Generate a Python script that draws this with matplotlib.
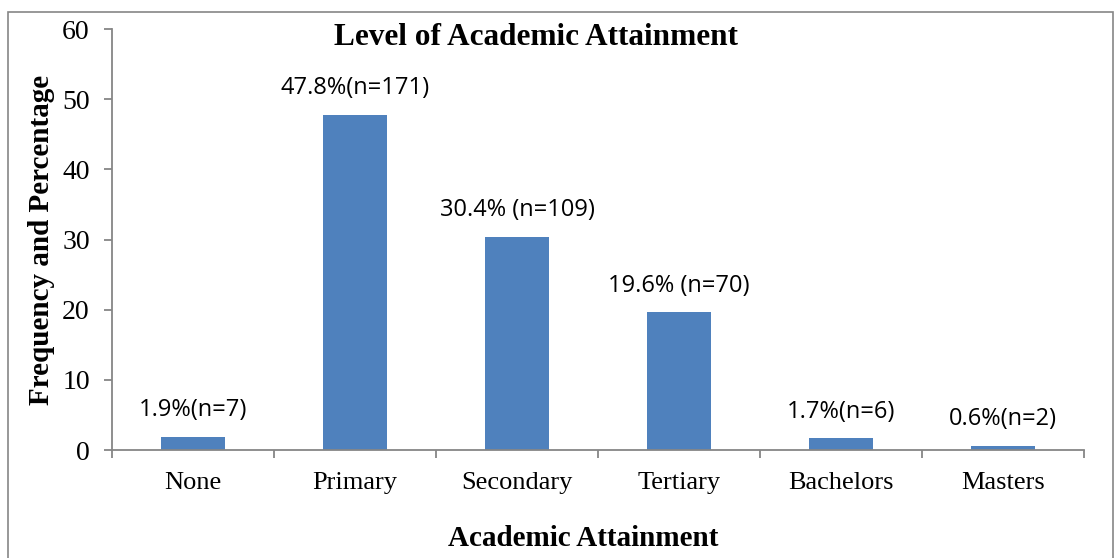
import matplotlib.pyplot as plt
from matplotlib.patches import Rectangle

categories = ['None', 'Primary', 'Secondary', 'Tertiary', 'Bachelors', 'Masters']
percent = [1.9, 47.8, 30.4, 19.6, 1.7, 0.6]
labels = ['1.9%(n=7)', '47.8%(n=171)', '30.4% (n=109)', '19.6% (n=70)',
          '1.7%(n=6)', '0.6%(n=2)']

serif = ['Liberation Serif', 'DejaVu Serif']
sans = ['Open Sans', 'DejaVu Sans']
axis_grey = '#868686'

fig = plt.figure(figsize=(11.17, 5.58), dpi=100)
ax = fig.add_axes([0.1003, 0.1935, 0.8702, 0.7545])

x = range(len(categories))
bars = ax.bar(x, percent, width=0.4, color='#4F81BD')

for b, txt in zip(bars, labels):
    ax.annotate(txt, (b.get_x() + b.get_width() / 2, b.get_height()),
                xytext=(0, 19), textcoords='offset points',
                ha='center', va='center', fontsize=17, family=sans)

ax.set_xlim(-0.5, len(categories) - 0.5)
ax.set_ylim(0, 60)
ax.set_yticks(range(0, 61, 10))
ax.set_xticks([i - 0.5 for i in range(len(categories) + 1)])
ax.set_xticklabels([])
ax.set_xticks(list(x), minor=True)
ax.set_xticklabels(categories, minor=True, family=serif, fontsize=19)
ax.tick_params(axis='x', which='major', length=6, color=axis_grey, width=1.3)
ax.tick_params(axis='x', which='minor', length=0, pad=16)
ax.tick_params(axis='y', length=6, color=axis_grey, width=1.3, pad=10)
for t in ax.get_yticklabels():
    t.set_family(serif)
    t.set_fontsize(20)

for side in ['top', 'right']:
    ax.spines[side].set_visible(False)
for side in ['left', 'bottom']:
    ax.spines[side].set_color(axis_grey)
    ax.spines[side].set_linewidth(1.3)

fig.text(0.48, 0.932, 'Level of Academic Attainment', ha='center', va='center',
         fontsize=22.5, fontweight='bold', family=serif)
fig.text(0.037, 0.57, 'Frequency and Percentage', rotation=90, ha='center',
         va='center', fontsize=21, fontweight='bold', family=serif)
fig.text(0.522, 0.035, 'Academic Attainment', ha='center', va='center',
         fontsize=21, fontweight='bold', family=serif)

# outer chart border, open at the bottom edge of the image
fig.patches.append(Rectangle((0.0072, -0.05), 0.989, 1.028, transform=fig.transFigure,
                             fill=False, edgecolor=axis_grey, linewidth=1.2))

fig.savefig('out.png', dpi=100)
